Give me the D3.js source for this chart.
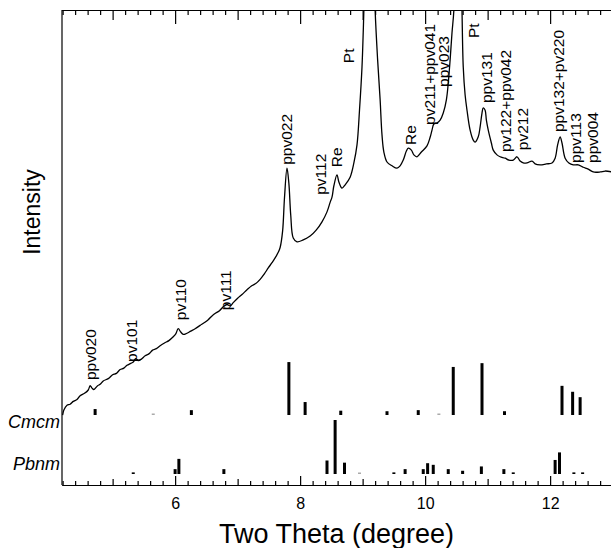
<!DOCTYPE html>
<html>
<head>
<meta charset="utf-8">
<script src="https://cdn.jsdelivr.net/npm/d3@7"></script>
<style>
  body { margin: 0; background: #fff; }
  svg { display: block; font-family: "Liberation Sans", Arial, Helvetica, sans-serif; }
  .axis path, .axis line { stroke: #000; stroke-width: 1.2; }
  .axis text { font-size: 16px; fill: #000; }
</style>
</head>
<body>
<svg id="chart" width="611" height="548"></svg>
<script>
// diffraction pattern: [two theta, intensity (arb.)]
var pattern = [
  [4.20,14.7],[4.22,15.8],[4.27,16.8],[4.32,17.0],[4.37,17.6],[4.43,18.0],[4.48,18.8],[4.55,19.3],
  [4.61,20.0],[4.64,20.9],[4.67,20.4],[4.70,20.1],[4.76,20.9],[4.80,21.2],[4.85,21.9],[4.93,22.4],
  [5.00,23.2],[5.06,23.5],[5.12,24.3],[5.18,24.6],[5.23,25.2],[5.29,25.6],[5.33,25.9],[5.37,26.6],
  [5.41,26.2],[5.46,26.5],[5.52,27.2],[5.58,27.6],[5.64,28.4],[5.70,28.7],[5.76,29.3],[5.83,29.9],
  [5.90,30.4],[5.97,31.2],[6.01,31.8],[6.05,32.9],[6.09,32.2],[6.13,31.7],[6.18,31.9],[6.25,32.4],
  [6.32,32.9],[6.40,33.6],[6.47,34.2],[6.53,34.8],[6.59,35.6],[6.65,36.2],[6.71,36.7],[6.77,37.5],
  [6.83,38.0],[6.88,37.7],[6.93,38.4],[7.00,39.3],[7.07,40.1],[7.15,41.1],[7.22,41.9],[7.29,42.4],
  [7.36,43.3],[7.43,44.5],[7.49,45.7],[7.55,46.8],[7.60,47.8],[7.65,49.0],[7.68,50.0],[7.72,53.5],
  [7.75,60.5],[7.79,66.7],[7.82,63.5],[7.85,56.8],[7.89,52.0],[7.95,51.2],[8.05,51.6],[8.16,52.4],
  [8.26,53.7],[8.35,55.4],[8.43,57.5],[8.48,59.5],[8.51,60.6],[8.54,63.0],[8.59,65.3],[8.62,63.8],
  [8.67,62.5],[8.72,63.2],[8.80,64.8],[8.86,67.8],[8.91,71.6],[8.95,78.9],[8.99,88.0],[9.02,100],
  [9.05,115],[9.11,130],[9.17,115],[9.20,100],[9.24,89.5],[9.28,81.1],[9.31,73.7],[9.34,70.1],
  [9.39,68.0],[9.47,67.2],[9.55,66.7],[9.60,67.2],[9.65,68.4],[9.70,70.3],[9.73,70.9],[9.78,70.5],
  [9.82,69.5],[9.87,69.1],[9.94,70.1],[10.03,71.4],[10.08,73.2],[10.11,74.7],[10.14,76.0],[10.19,76.2],
  [10.24,76.8],[10.29,78.3],[10.34,81.1],[10.37,84.6],[10.40,89.5],[10.43,95.2],[10.46,100],
  [10.49,115],[10.53,128],[10.57,115],[10.59,100],[10.61,88.0],[10.64,82.1],[10.67,78.9],[10.72,74.7],
  [10.77,72.6],[10.80,72.2],[10.85,73.3],[10.88,75.4],[10.91,78.3],[10.93,79.4],[10.96,78.9],[10.98,76.8],
  [11.01,74.7],[11.06,72.0],[11.09,70.5],[11.15,69.5],[11.20,69.1],[11.28,68.8],[11.34,68.4],[11.41,68.4],
  [11.47,69.1],[11.52,68.2],[11.57,67.8],[11.63,67.8],[11.71,68.2],[11.76,67.6],[11.84,67.4],[11.94,67.6],
  [12.03,67.8],[12.08,68.8],[12.12,71.6],[12.16,73.3],[12.19,72.0],[12.24,68.8],[12.30,67.8],[12.37,67.4],
  [12.45,67.4],[12.53,66.9],[12.61,66.5],[12.69,65.9],[12.80,65.9],[12.88,66.1],[12.99,65.9]
];

// peak assignments: [label, two theta, intensity where the label starts]
var peakLabels = [
  ["ppv020", 4.66, 22.1], ["pv101", 5.32, 25.9], ["pv110", 6.10, 34.7], ["pv111", 6.82, 36.8],
  ["ppv022", 7.80, 67.4], ["pv112", 8.34, 61.1], ["Re", 8.60, 66.9], ["Pt", 8.78, 88.8],
  ["Re", 9.78, 71.6], ["pv211+ppv041", 10.08, 75.8], ["ppv023", 10.30, 83.8], ["Pt", 10.78, 94.1],
  ["ppv131", 11.00, 80.4], ["pv122+ppv042", 11.30, 70.1], ["pv212", 11.57, 70.5],
  ["ppv132+pv220", 12.14, 74.3], ["ppv113", 12.42, 67.8], ["ppv004", 12.69, 67.8]
];

// calculated reflections: [two theta, relative intensity]
var cmcm = [
  [4.72,11],[5.65,2],[6.26,9],[7.82,98],[8.08,24],[8.65,8],[9.39,7],[9.89,9],[10.22,2],
  [10.45,89],[10.91,96],[11.27,7],[12.19,54],[12.36,43],[12.48,33]
];
var pbnm = [
  [5.33,3],[6.00,9],[6.06,28],[6.78,9],[8.43,25],[8.56,100],[8.71,21],[8.95,2],[9.50,3],
  [9.68,9],[9.97,9],[10.04,20],[10.13,17],[10.37,9],[10.60,6],[10.90,14],[11.26,9],[11.41,3],
  [12.08,26],[12.15,40],[12.38,3],[12.52,3]
];
var phases = ["Cmcm", "Pbnm"];
var xTickLabels = [6, 8, 10, 12];

(function(){
  var svg = d3.select("#chart");
  var x0 = 62, x1 = 612, y0 = 10, y1 = 485;

  var x = d3.scaleLinear().domain([4.19, 12.99]).range([x0, x1]);
  var y = d3.scaleLinear().domain([0, 100]).range([y1, y0]);
  var h = d3.scaleLinear().domain([0, 100]).range([0, 54]);
  var rowBase = d3.scaleOrdinal().domain(phases).range([415, 474]);
  var rowText = d3.scaleOrdinal().domain(phases).range([428, 470]);

  var fine = d3.range(21, 65).map(function(i){ return i / 5; });
  var minor = fine.filter(function(t){ return Math.abs(t - Math.round(t)) > 1e-6; });
  var odd = [5, 7, 9, 11];

  // top ticks (pointing down)
  function topAxis(vals, size){
    svg.append("g").attr("class", "axis")
      .attr("transform", "translate(0," + y0 + ")")
      .call(d3.axisTop(x).tickValues(vals).tickSizeInner(-size).tickSizeOuter(0).tickFormat(""));
  }
  topAxis(minor, 5); topAxis(odd, 10); topAxis(xTickLabels, 14);

  // bottom ticks (pointing up)
  function bottomAxis(vals, size, labels){
    svg.append("g").attr("class", "axis")
      .attr("transform", "translate(0," + y1 + ")")
      .call(d3.axisBottom(x).tickValues(vals).tickSizeInner(-size).tickSizeOuter(0)
        .tickPadding(13).tickFormat(labels ? d3.format("d") : ""));
  }
  bottomAxis(minor, 4, false); bottomAxis(odd, 6, false); bottomAxis(xTickLabels, 9, true);

  svg.append("line").attr("x1", x0).attr("x2", x0).attr("y1", y0).attr("y2", y1)
    .attr("stroke", "#000").attr("stroke-width", 1.2);

  svg.append("clipPath").attr("id", "plot")
    .append("rect").attr("x", x0).attr("y", y0).attr("width", x1 - x0).attr("height", y1 - y0);

  var line = d3.line()
    .x(function(d){ return x(d[0]); })
    .y(function(d){ return y(d[1]); })
    .curve(d3.curveCatmullRom.alpha(0.5));

  svg.append("path").datum(pattern)
    .attr("clip-path", "url(#plot)")
    .attr("d", line)
    .attr("fill", "none").attr("stroke", "#000").attr("stroke-width", 1.3);

  svg.selectAll(".plabel").data(peakLabels).enter().append("text")
    .attr("class", "plabel")
    .attr("transform", function(d){ return "translate(" + x(d[1]) + "," + y(d[2]) + ") rotate(-90)"; })
    .attr("dy", "0.3em")
    .attr("font-size", 15.5)
    .text(function(d){ return d[0]; });

  // reflection sticks
  [[phases[0], cmcm], [phases[1], pbnm]].forEach(function(p){
    var base = rowBase(p[0]);
    svg.append("g").selectAll("rect").data(p[1]).enter().append("rect")
      .attr("x", function(d){ return x(d[0]) - 1.5; })
      .attr("width", 3)
      .attr("y", function(d){ return base - Math.max(h(d[1]), 1.5); })
      .attr("height", function(d){ return Math.max(h(d[1]), 1.5); })
      .attr("fill", function(d){ return d[1] < 3 ? "#aaa" : "#000"; });
    svg.append("text")
      .attr("x", x0 - 2).attr("y", rowText(p[0]))
      .attr("text-anchor", "end")
      .attr("font-size", 18).attr("font-style", "italic")
      .text(p[0]);
  });

  svg.append("text")
    .attr("x", (x0 + 611) / 2).attr("y", 543)
    .attr("text-anchor", "middle").attr("font-size", 27)
    .text("Two Theta (degree)");

  svg.append("text")
    .attr("transform", "translate(33,212) rotate(-90)")
    .attr("dy", "0.3em")
    .attr("text-anchor", "middle").attr("font-size", 23)
    .text("Intensity");
})();
</script>
</body>
</html>
